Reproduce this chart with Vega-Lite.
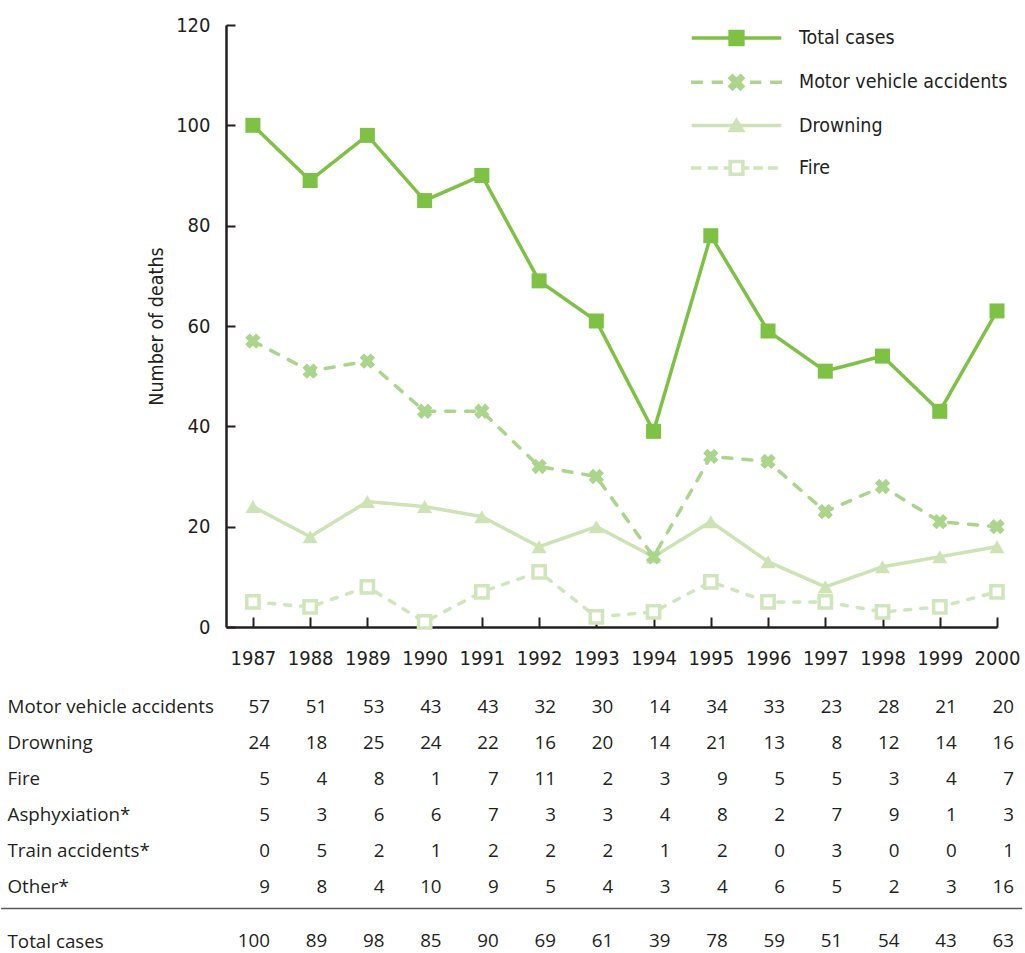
{
  "$schema": "https://vega.github.io/schema/vega-lite/v6.json",
  "background": "white",
  "padding": {"left": 0, "top": 15, "right": 0, "bottom": 0},
  "spacing": 10,
  "config": {"view": {"stroke": null}, "font": "Open Sans"},
  "datasets": {
    "deaths": [
      {"category": "Motor vehicle accidents", "year": 1987, "value": 57},
      {"category": "Motor vehicle accidents", "year": 1988, "value": 51},
      {"category": "Motor vehicle accidents", "year": 1989, "value": 53},
      {"category": "Motor vehicle accidents", "year": 1990, "value": 43},
      {"category": "Motor vehicle accidents", "year": 1991, "value": 43},
      {"category": "Motor vehicle accidents", "year": 1992, "value": 32},
      {"category": "Motor vehicle accidents", "year": 1993, "value": 30},
      {"category": "Motor vehicle accidents", "year": 1994, "value": 14},
      {"category": "Motor vehicle accidents", "year": 1995, "value": 34},
      {"category": "Motor vehicle accidents", "year": 1996, "value": 33},
      {"category": "Motor vehicle accidents", "year": 1997, "value": 23},
      {"category": "Motor vehicle accidents", "year": 1998, "value": 28},
      {"category": "Motor vehicle accidents", "year": 1999, "value": 21},
      {"category": "Motor vehicle accidents", "year": 2000, "value": 20},
      {"category": "Drowning", "year": 1987, "value": 24},
      {"category": "Drowning", "year": 1988, "value": 18},
      {"category": "Drowning", "year": 1989, "value": 25},
      {"category": "Drowning", "year": 1990, "value": 24},
      {"category": "Drowning", "year": 1991, "value": 22},
      {"category": "Drowning", "year": 1992, "value": 16},
      {"category": "Drowning", "year": 1993, "value": 20},
      {"category": "Drowning", "year": 1994, "value": 14},
      {"category": "Drowning", "year": 1995, "value": 21},
      {"category": "Drowning", "year": 1996, "value": 13},
      {"category": "Drowning", "year": 1997, "value": 8},
      {"category": "Drowning", "year": 1998, "value": 12},
      {"category": "Drowning", "year": 1999, "value": 14},
      {"category": "Drowning", "year": 2000, "value": 16},
      {"category": "Fire", "year": 1987, "value": 5},
      {"category": "Fire", "year": 1988, "value": 4},
      {"category": "Fire", "year": 1989, "value": 8},
      {"category": "Fire", "year": 1990, "value": 1},
      {"category": "Fire", "year": 1991, "value": 7},
      {"category": "Fire", "year": 1992, "value": 11},
      {"category": "Fire", "year": 1993, "value": 2},
      {"category": "Fire", "year": 1994, "value": 3},
      {"category": "Fire", "year": 1995, "value": 9},
      {"category": "Fire", "year": 1996, "value": 5},
      {"category": "Fire", "year": 1997, "value": 5},
      {"category": "Fire", "year": 1998, "value": 3},
      {"category": "Fire", "year": 1999, "value": 4},
      {"category": "Fire", "year": 2000, "value": 7},
      {"category": "Asphyxiation*", "year": 1987, "value": 5},
      {"category": "Asphyxiation*", "year": 1988, "value": 3},
      {"category": "Asphyxiation*", "year": 1989, "value": 6},
      {"category": "Asphyxiation*", "year": 1990, "value": 6},
      {"category": "Asphyxiation*", "year": 1991, "value": 7},
      {"category": "Asphyxiation*", "year": 1992, "value": 3},
      {"category": "Asphyxiation*", "year": 1993, "value": 3},
      {"category": "Asphyxiation*", "year": 1994, "value": 4},
      {"category": "Asphyxiation*", "year": 1995, "value": 8},
      {"category": "Asphyxiation*", "year": 1996, "value": 2},
      {"category": "Asphyxiation*", "year": 1997, "value": 7},
      {"category": "Asphyxiation*", "year": 1998, "value": 9},
      {"category": "Asphyxiation*", "year": 1999, "value": 1},
      {"category": "Asphyxiation*", "year": 2000, "value": 3},
      {"category": "Train accidents*", "year": 1987, "value": 0},
      {"category": "Train accidents*", "year": 1988, "value": 5},
      {"category": "Train accidents*", "year": 1989, "value": 2},
      {"category": "Train accidents*", "year": 1990, "value": 1},
      {"category": "Train accidents*", "year": 1991, "value": 2},
      {"category": "Train accidents*", "year": 1992, "value": 2},
      {"category": "Train accidents*", "year": 1993, "value": 2},
      {"category": "Train accidents*", "year": 1994, "value": 1},
      {"category": "Train accidents*", "year": 1995, "value": 2},
      {"category": "Train accidents*", "year": 1996, "value": 0},
      {"category": "Train accidents*", "year": 1997, "value": 3},
      {"category": "Train accidents*", "year": 1998, "value": 0},
      {"category": "Train accidents*", "year": 1999, "value": 0},
      {"category": "Train accidents*", "year": 2000, "value": 1},
      {"category": "Other*", "year": 1987, "value": 9},
      {"category": "Other*", "year": 1988, "value": 8},
      {"category": "Other*", "year": 1989, "value": 4},
      {"category": "Other*", "year": 1990, "value": 10},
      {"category": "Other*", "year": 1991, "value": 9},
      {"category": "Other*", "year": 1992, "value": 5},
      {"category": "Other*", "year": 1993, "value": 4},
      {"category": "Other*", "year": 1994, "value": 3},
      {"category": "Other*", "year": 1995, "value": 4},
      {"category": "Other*", "year": 1996, "value": 6},
      {"category": "Other*", "year": 1997, "value": 5},
      {"category": "Other*", "year": 1998, "value": 2},
      {"category": "Other*", "year": 1999, "value": 3},
      {"category": "Other*", "year": 2000, "value": 16},
      {"category": "Total cases", "year": 1987, "value": 100},
      {"category": "Total cases", "year": 1988, "value": 89},
      {"category": "Total cases", "year": 1989, "value": 98},
      {"category": "Total cases", "year": 1990, "value": 85},
      {"category": "Total cases", "year": 1991, "value": 90},
      {"category": "Total cases", "year": 1992, "value": 69},
      {"category": "Total cases", "year": 1993, "value": 61},
      {"category": "Total cases", "year": 1994, "value": 39},
      {"category": "Total cases", "year": 1995, "value": 78},
      {"category": "Total cases", "year": 1996, "value": 59},
      {"category": "Total cases", "year": 1997, "value": 51},
      {"category": "Total cases", "year": 1998, "value": 54},
      {"category": "Total cases", "year": 1999, "value": 43},
      {"category": "Total cases", "year": 2000, "value": 63}
    ]
  },
  "vconcat": [
    {
      "width": 771,
      "height": 602,
      "data": {"name": "deaths"},
      "transform": [{"filter": {"field": "category", "oneOf": ["Total cases", "Motor vehicle accidents", "Drowning", "Fire"]}}],
      "encoding": {
        "x": {
          "field": "year", "type": "quantitative",
          "scale": {"domain": [1986.53, 2000], "nice": false, "zero": false},
          "axis": {
            "values": [1987, 1988, 1989, 1990, 1991, 1992, 1993, 1994, 1995, 1996, 1997, 1998, 1999, 2000],
            "format": "d", "title": null, "grid": false,
            "tickSize": -10, "tickWidth": 2, "tickColor": "#231f20",
            "domainColor": "#231f20", "domainWidth": 2.5,
            "labelFont": "Liberation Sans Narrow, Noto Sans Condensed, DejaVu Sans Condensed, Roboto Condensed, Roboto", "labelFontSize": 20, "labelColor": "#231f20",
            "labelPadding": 31, "labelFlush": false, "labelOverlap": false
          }
        },
        "y": {
          "field": "value", "type": "quantitative",
          "scale": {"domain": [0, 120], "nice": false},
          "axis": {
            "values": [0, 20, 40, 60, 80, 100, 120],
            "title": "Number of deaths", "grid": false,
            "titleFont": "Liberation Sans Narrow, Noto Sans Condensed, DejaVu Sans Condensed, Roboto Condensed, Roboto", "titleFontSize": 19.5, "titleFontWeight": "normal",
            "titleColor": "#231f20", "titlePadding": 9,
            "tickSize": -9, "tickWidth": 2, "tickColor": "#231f20",
            "domainColor": "#231f20", "domainWidth": 2.5,
            "labelFont": "Liberation Sans Narrow, Noto Sans Condensed, DejaVu Sans Condensed, Roboto Condensed, Roboto", "labelFontSize": 20, "labelColor": "#231f20",
            "labelPadding": 25, "labelFlush": false, "labelOverlap": false
          }
        }
      },
      "layer": [
        {
          "mark": {"type": "line", "strokeWidth": 3.5, "strokeCap": "round"},
          "encoding": {
            "color": {
              "field": "category", "type": "nominal",
              "scale": {"domain": ["Fire", "Drowning", "Motor vehicle accidents", "Total cases"], "range": ["#cfe6ba", "#cce4b3", "#a9d68b", "#7dc242"]},
              "legend": null
            },
            "strokeDash": {
              "field": "category", "type": "nominal",
              "scale": {"domain": ["Fire", "Drowning", "Motor vehicle accidents", "Total cases"], "range": [[6, 10], [1, 0], [9, 11], [1, 0]]},
              "legend": null
            }
          }
        },
        {
          "transform": [{"filter": "datum.category === 'Fire'"}],
          "mark": {"type": "point", "shape": "square", "filled": true, "fill": "white", "stroke": "#cfe6ba", "strokeWidth": 3.5, "size": 150, "opacity": 1}
        },
        {
          "transform": [{"filter": "datum.category === 'Drowning'"}],
          "mark": {"type": "point", "shape": "triangle-up", "filled": true, "color": "#cce4b3", "strokeWidth": 0, "size": 225, "opacity": 1}
        },
        {
          "transform": [{"filter": "datum.category === 'Motor vehicle accidents'"}],
          "mark": {"type": "point", "shape": "cross", "angle": 45, "filled": true, "color": "#a9d68b", "strokeWidth": 0, "size": 240, "opacity": 1}
        },
        {
          "transform": [{"filter": "datum.category === 'Total cases'"}],
          "mark": {"type": "point", "shape": "square", "filled": true, "color": "#7dc242", "strokeWidth": 0, "size": 225, "opacity": 1}
        },
        {
          "transform": [{"filter": "datum.value < 0"}],
          "mark": {"type": "point", "filled": true, "strokeWidth": 3.5, "size": 256, "opacity": 1},
          "encoding": {
            "shape": {
              "field": "category", "type": "nominal",
              "scale": {
                "domain": ["Total cases", "Motor vehicle accidents", "Drowning", "Fire"],
                "range": [
                  "M-5.6,0H5.6M-0.8,-0.8H0.8V0.8H-0.8Z",
                  "M-5.7,0H-4.2M-3.1,0H-1.7M1.7,0H3.1M4.2,0H5.7M0,-0.3L0.5,-0.8L0.8,-0.5L0.3,0L0.8,0.5L0.5,0.8L0,0.3L-0.5,0.8L-0.8,0.5L-0.3,0L-0.8,-0.5L-0.5,-0.8Z",
                  "M-5.6,0H5.6M0,-0.65L0.75,0.6H-0.75Z",
                  "M-5.7,0H-4.4M-3.6,0H-2.3M-1.6,0H-1M1,0H1.6M2.1,0H3.3M3.9,0H5.2M-0.8,-0.8H0.8V0.8H-0.8Z"
                ]
              },
              "legend": {"title": null, "orient": "none", "legendX": 500.5, "legendY": 3, "padding": 0, "labelFont": "Liberation Sans Narrow, Noto Sans Condensed, DejaVu Sans Condensed, Roboto Condensed, Roboto", "labelFontSize": 19.5, "labelColor": "#231f20", "labelOffset": 52.5, "labelLimit": 400, "symbolSize": 256, "symbolStrokeWidth": 3.5, "rowPadding": 16.3}
            },
            "fill": {
              "field": "category", "type": "nominal",
              "scale": {"domain": ["Total cases", "Motor vehicle accidents", "Drowning", "Fire"], "range": ["#7dc242", "#a9d68b", "#cce4b3", "#ffffff"]},
              "legend": {"title": null, "orient": "none", "legendX": 500.5, "legendY": 3, "padding": 0, "labelFont": "Liberation Sans Narrow, Noto Sans Condensed, DejaVu Sans Condensed, Roboto Condensed, Roboto", "labelFontSize": 19.5, "labelColor": "#231f20", "labelOffset": 52.5, "labelLimit": 400, "symbolSize": 256, "symbolStrokeWidth": 3.5, "rowPadding": 16.3}
            },
            "stroke": {
              "field": "category", "type": "nominal",
              "scale": {"domain": ["Total cases", "Motor vehicle accidents", "Drowning", "Fire"], "range": ["#7dc242", "#a9d68b", "#cce4b3", "#cfe6ba"]},
              "legend": {"title": null, "orient": "none", "legendX": 500.5, "legendY": 3, "padding": 0, "labelFont": "Liberation Sans Narrow, Noto Sans Condensed, DejaVu Sans Condensed, Roboto Condensed, Roboto", "labelFontSize": 19.5, "labelColor": "#231f20", "labelOffset": 52.5, "labelLimit": 400, "symbolSize": 256, "symbolStrokeWidth": 3.5, "rowPadding": 16.3}
            }
          }
        }
      ]
    },
    {
      "width": 771,
      "height": 211,
      "data": {"name": "deaths"},
      "transform": [{"filter": "datum.category !== 'Total cases'"}],
      "mark": {"type": "text", "align": "right", "baseline": "middle", "dx": 17, "font": "Open Sans", "fontSize": 18.8, "color": "#231f20"},
      "encoding": {
        "x": {"field": "year", "type": "quantitative", "scale": {"domain": [1986.53, 2000], "nice": false, "zero": false}, "axis": null},
        "y": {
          "field": "category", "type": "nominal",
          "sort": ["Motor vehicle accidents", "Drowning", "Fire", "Asphyxiation*", "Train accidents*", "Other*"],
          "scale": {"type": "point", "padding": 0.4306, "align": 0.935},
          "axis": {"title": null, "domain": false, "ticks": false, "labelAlign": "left", "labelBaseline": "middle", "labelPadding": 219, "labelFont": "Open Sans", "labelFontSize": 18.8, "labelColor": "#231f20", "labelLimit": 400}
        },
        "text": {"field": "value", "type": "quantitative"}
      }
    },
    {
      "width": 771,
      "height": 1,
      "data": {"values": [{}]},
      "mark": {"type": "rule", "color": "#58595b", "strokeWidth": 1.6},
      "encoding": {
        "x": {"datum": 1982.6, "type": "quantitative", "scale": {"domain": [1986.53, 2000], "nice": false, "zero": false}, "axis": null},
        "x2": {"datum": 2000.44}
      }
    },
    {
      "width": 771,
      "height": 42,
      "data": {"name": "deaths"},
      "transform": [{"filter": "datum.category === 'Total cases'"}],
      "mark": {"type": "text", "align": "right", "baseline": "middle", "dx": 17, "font": "Open Sans", "fontSize": 18.8, "color": "#231f20"},
      "encoding": {
        "x": {"field": "year", "type": "quantitative", "scale": {"domain": [1986.53, 2000], "nice": false, "zero": false}, "axis": null},
        "y": {
          "field": "category", "type": "nominal",
          "axis": {"title": null, "domain": false, "ticks": false, "labelAlign": "left", "labelBaseline": "middle", "labelPadding": 219, "labelFont": "Open Sans", "labelFontSize": 18.8, "labelColor": "#231f20", "labelLimit": 400}
        },
        "text": {"field": "value", "type": "quantitative"}
      }
    }
  ]
}
